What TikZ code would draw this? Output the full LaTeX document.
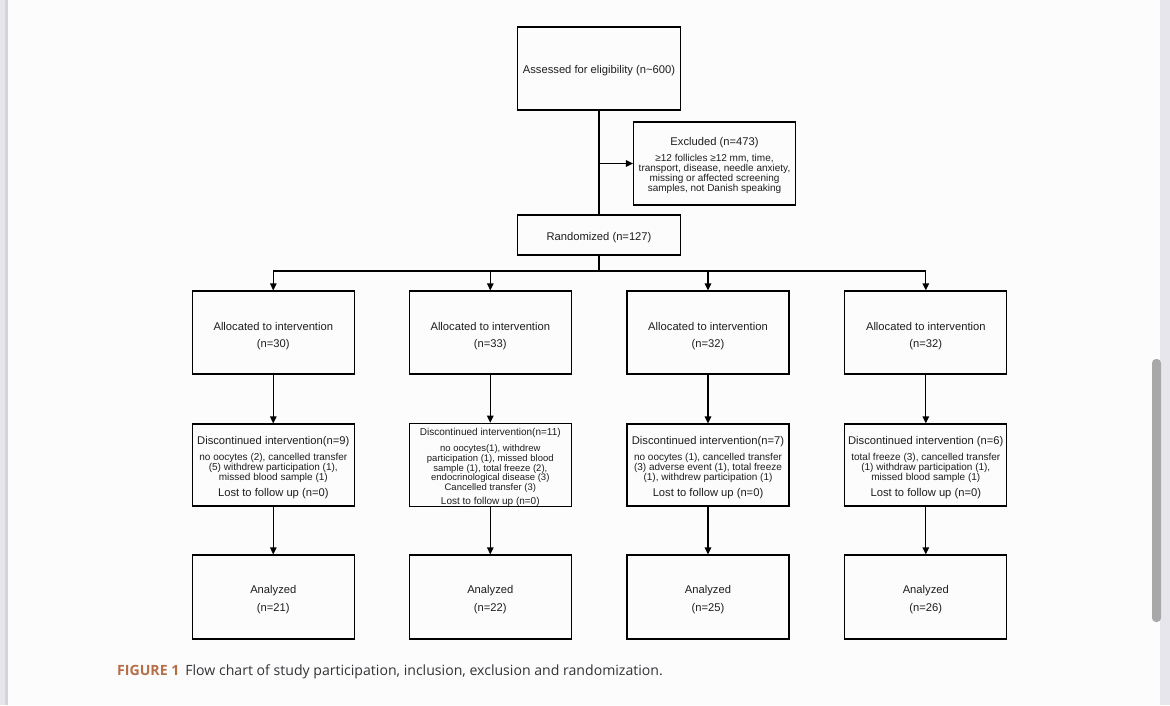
\documentclass[tikz,border=0pt]{standalone}
\usepackage{fontspec}
\setmainfont{Liberation Sans}
\newfontfamily\capfont{Open Sans}
\usetikzlibrary{arrows.meta}
\definecolor{capbrown}{RGB}{180,110,72}
\definecolor{captext}{RGB}{50,50,55}
\definecolor{striplight}{RGB}{230,230,236}
\definecolor{stripdark}{RGB}{212,212,218}
\definecolor{scrollgray}{RGB}{168,168,168}
\definecolor{boxtext}{RGB}{30,30,30}
\newcommand\fmain{\fontsize{11.2}{10}\selectfont}
\newcommand\fdet{\fontsize{10}{10}\selectfont}
\newcommand\fmainb{\fontsize{10}{9.8}\selectfont}
\newcommand\fdetb{\fontsize{9.5}{9.8}\selectfont}
\newcommand\topstrut[1]{\rule{0pt}{#1}}
\begin{document}
\begin{tikzpicture}[x=1pt,y=-1pt,
  box/.style={draw=black, line width=1.1pt, inner sep=0pt, align=center,
              text=boxtext, minimum width=162pt, font=\fdet},
  ln/.style={line width=1.3pt, black},
  arr/.style={ln, -{Triangle[length=7pt,width=6.5pt]}}]
\useasboundingbox (0,0) rectangle (1170,705);
\fill[white!99!black] (0,0) rectangle (1170,705);
% window chrome
\fill[striplight] (0,0) rectangle (8,705);
\fill[stripdark] (5,0) rectangle (8,705);
\fill[striplight] (1160,0) rectangle (1170,705);
\fill[scrollgray, rounded corners=4pt] (1152,359) rectangle (1161,622);

% top
\node[box, minimum width=163pt, minimum height=83pt] (top) at (599,68.5)
  {\fmain\topstrut{12.2pt}Assessed for eligibility (n\textasciitilde600)};
\node[box, minimum width=162pt, minimum height=83pt] (excl) at (714.5,163.5)
  {\fmain\topstrut{11.6pt}Excluded (n=473)\\[6pt]
   \fdet ≥12 follicles ≥12 mm, time,\\
   \fdet transport, disease, needle anxiety,\\
   \fdet missing or affected screening\\
   \fdet samples, not Danish speaking};
\node[box, minimum width=163pt, minimum height=40pt] (rand) at (599,235)
  {\fmain\topstrut{12.6pt}Randomized (n=127)};

% allocated and analyzed
\foreach \i/\x/\n/\m in {1/273.3/30/21, 2/490.3/33/22, 3/708/32/25, 4/925.8/32/26}{
  \node[box, minimum height=83pt] (a\i) at (\x,332.5)
    {\fmain\topstrut{15pt}Allocated to intervention\\[7.3pt] \fmain (n=\n)};
  \node[box, minimum height=84pt] (n\i) at (\x,597)
    {\fmain\topstrut{13.2pt}Analyzed\\[6pt] \fmain (n=\m)};
}

% discontinued
\node[box, minimum height=82pt] (d1) at (273.3,465)
  {\fmain\topstrut{12.6pt}Discontinued intervention(n=9)\\[6.7pt]
   \fdet no oocytes (2), cancelled transfer\\
   \fdet (5) withdrew participation (1),\\
   \fdet missed blood sample (1)\\[4.3pt]
   \fmain Lost to follow up (n=0)};
\node[box, minimum height=82pt, font=\fdetb] (d2) at (490.3,465)
  {\fmainb\topstrut{12.2pt}Discontinued intervention(n=11)\\[6.2pt]
   \fdetb no oocytes(1), withdrew\\
   \fdetb participation (1), missed blood\\
   \fdetb sample (1), total freeze (2),\\
   \fdetb endocrinological disease (3)\\
   \fdetb Cancelled transfer (3)\\[4.2pt]
   \fmainb Lost to follow up (n=0)};
\node[box, minimum height=82pt] (d3) at (708,465)
  {\fmain\topstrut{12.6pt}Discontinued intervention(n=7)\\[6.7pt]
   \fdet no oocytes (1), cancelled transfer\\
   \fdet (3) adverse event (1), total freeze\\
   \fdet (1), withdrew participation (1)\\[4.3pt]
   \fmain Lost to follow up (n=0)};
\node[box, minimum height=82pt] (d4) at (925.8,465)
  {\fmain\topstrut{12.6pt}Discontinued intervention (n=6)\\[6.7pt]
   \fdet total freeze (3), cancelled transfer\\
   \fdet (1) withdraw participation (1),\\
   \fdet missed blood sample (1)\\[4.3pt]
   \fmain Lost to follow up (n=0)};

% connectors
\draw[ln] (top.south) -- (rand.north);
\draw[arr] (top.south |- excl.west) -- (excl.west);
\coordinate (br) at (599,271);
\draw[ln] (rand.south) -- (br);
\foreach \i in {1,2,3,4}{
  \draw[arr] (br) -| (a\i.north);
  \draw[arr] (a\i.south) -- (d\i.north);
  \draw[arr] (d\i.south) -- (n\i.north);
}

% caption
\node[anchor=base west, inner sep=0pt] (cap) at (117,675)
  {\capfont\fontsize{14.1}{16}\selectfont
   \textcolor{capbrown}{\bfseries FIGURE 1}\hspace{6pt}\textcolor{captext}{Flow chart of study participation, inclusion, exclusion and randomization.}};
\end{tikzpicture}
\end{document}
